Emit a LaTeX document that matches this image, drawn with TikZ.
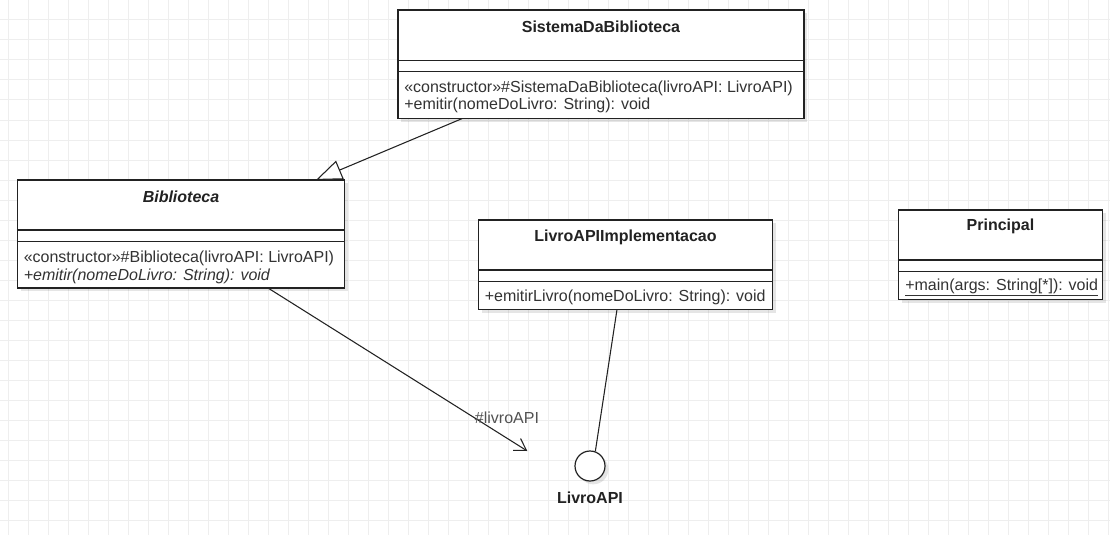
\documentclass[tikz,border=0pt]{standalone}
\usepackage{fontspec}
\setmainfont{Liberation Sans}
\usetikzlibrary{arrows.meta,shadows}
\definecolor{gridc}{HTML}{EEEEEE}
\definecolor{ink}{HTML}{222222}
\definecolor{txt}{HTML}{333333}
\tikzset{
  gridline/.style={draw=gridc, line width=0.75pt},
  classbox/.style={draw=ink, line width=0.9pt, fill=white, inner sep=0pt,
    drop shadow={shadow xshift=2.5pt, shadow yshift=-2.5pt, fill=black, opacity=0.1}},
  divider/.style={draw=ink, line width=0.9pt},
  cname/.style={inner sep=0pt, font=\fontsize{12pt}{14pt}\selectfont\bfseries, text=ink},
  member/.style={inner sep=0pt, anchor=west, font=\fontsize{12pt}{14pt}\selectfont, text=txt},
  conn/.style={draw=ink, line width=0.8pt},
  lbl/.style={inner sep=0pt, font=\fontsize{12pt}{14pt}\selectfont, text=txt!85},
  iface/.style={circle, draw=ink, line width=0.9pt, fill=white, inner sep=0pt, minimum size=22.5pt,
    drop shadow={shadow xshift=2.5pt, shadow yshift=-2.5pt, fill=black, opacity=0.1}}
}
\begin{document}
\begin{tikzpicture}[x=0.75pt,y=-0.75pt]
\useasboundingbox (0,0) rectangle (1110,535);
\fill[white] (0,0) rectangle (1110,535);
% grid
\foreach \i in {0,...,55} \draw[gridline] (8.3+20*\i,0) -- (8.3+20*\i,535);
\foreach \j in {0,...,26} \draw[gridline] (0,20*\j) -- (1110,20*\j);

% SistemaDaBiblioteca
\node[classbox, minimum width=304.5pt, minimum height=81.4pt] (sis) at (601,64.25) {};
\draw[divider] (sis.west |- 0,60.7) -- (sis.east |- 0,60.7);
\draw[divider] (sis.west |- 0,71.7) -- (sis.east |- 0,71.7);
\node[cname] (sisname) at (601,26.5) {SistemaDaBiblioteca};
\node[member] (sism1) at (404,88.3) {«constructor»\#SistemaDaBiblioteca(livroAPI: LivroAPI)};
\node[member] (sism2) at (404,105) {+emitir(nomeDoLivro: String): void};

% Biblioteca
\node[classbox, minimum width=245.25pt, minimum height=81pt] (bib) at (181,234) {};
\draw[divider] (bib.west |- 0,230) -- (bib.east |- 0,230);
\draw[divider] (bib.west |- 0,241.7) -- (bib.east |- 0,241.7);
\node[cname, font=\fontsize{12pt}{14pt}\selectfont\bfseries\itshape] (bibname) at (181,196.7) {Biblioteca};
\node[member] (bibm1) at (23.5,258.5) {«constructor»\#Biblioteca(livroAPI: LivroAPI)};
\node[member, font=\fontsize{12pt}{14pt}\selectfont\itshape] (bibm2) at (23.5,276.5) {+emitir(nomeDoLivro: String): void};

% LivroAPIImplementacao
\node[classbox, minimum width=220.5pt, minimum height=67.1pt] (impl) at (625.5,264.75) {};
\draw[divider] (impl.west |- 0,270) -- (impl.east |- 0,270);
\draw[divider] (impl.west |- 0,281.7) -- (impl.east |- 0,281.7);
\node[cname] (implname) at (625.5,237) {LivroAPIImplementacao};
\node[member] (implm1) at (484.5,297.8) {+emitirLivro(nomeDoLivro: String): void};

% Principal
\node[classbox, minimum width=153pt, minimum height=67.1pt] (pri) at (1000.5,254.75) {};
\draw[divider] (pri.west |- 0,260) -- (pri.east |- 0,260);
\draw[divider] (pri.west |- 0,271.7) -- (pri.east |- 0,271.7);
\node[cname] (priname) at (1000.5,226.5) {Principal};
\node[member] (prim1) at (905,287.5) {\underline{+main(args: String[*]): void}};

% interface
\node[iface] (api) at (590,466) {};
\node[cname] (apiname) at (590,497.5) {LivroAPI};

% connectors
\coordinate (genstart) at (462.3,118.5);
\coordinate (genend) at (316,180);
\draw[conn, -{Triangle[open, fill=white, length=19.5pt, width=15pt]}] (genstart) -- (genend);

\coordinate (assocstart) at (268,288);
\coordinate (assocend) at (527.3,451);
\draw[conn, -{Straight Barb[length=8.5pt, width=10.5pt]}] (assocstart) -- (assocend);
\node[lbl] (assoclbl) at (507,417.5) {\#livroAPI};

\coordinate (realstart) at (617,309.5);
\draw[conn] (realstart) -- (api.70);
\end{tikzpicture}
\end{document}
